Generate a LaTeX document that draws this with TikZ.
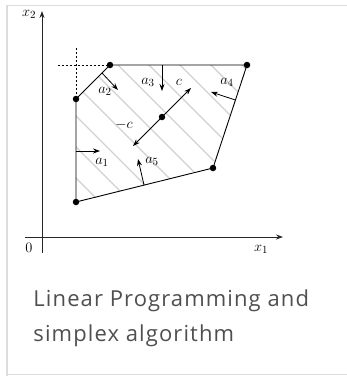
\documentclass[tikz,border=0pt]{standalone}
\usepackage{fontspec}
\newfontfamily\capfont[LetterSpace=5]{Open Sans}
\usetikzlibrary{arrows.meta}
\definecolor{capgray}{HTML}{4F4F4F}
\definecolor{framegray}{HTML}{DCDCDC}
\tikzset{
  dot/.style={circle,fill=black,inner sep=0pt,minimum size=6.5pt},
  edge/.style={line width=0.9pt,black},
  axis/.style={line width=0.9pt,black!85,-{Stealth[length=7pt,width=5pt]}},
  normal/.style={line width=0.8pt,-{Stealth[length=7pt,width=5pt]}},
  hatch/.style={line width=1.3pt,black!18},
  guide/.style={line width=0.7pt,dash pattern=on 2pt off 2pt},
  lbl/.style={inner sep=0pt,font=\fontsize{15}{17}\selectfont},
  caption/.style={inner sep=0pt,anchor=base west,text=capgray,font=\capfont\fontsize{22}{26}\selectfont}
}
\begin{document}
\begin{tikzpicture}[x=1pt,y=-1pt]
\useasboundingbox (0,0) rectangle (347,376);
\draw[framegray,line width=1.5pt] (6.75,380) -- (6.75,5.5) -- (350,5.5);
\draw[framegray,line width=1.5pt] (6.75,374.5) -- (350,374.5);
% axes
\coordinate (xs) at (25,237);
\coordinate (xe) at (283,237);
\coordinate (ys) at (42,253);
\coordinate (ye) at (42,11);
\draw[axis] (xs) -- (xe);
\draw[axis] (ys) -- (ye);
\node[lbl] (lx1) at (261,249) {$x_1$};
\node[lbl] (lx2) at (29,14) {$x_2$};
\node[lbl] (l0) at (29,248) {$0$};
% polygon
\coordinate (A) at (76,202);
\coordinate (B) at (76,99);
\coordinate (C) at (110,65);
\coordinate (D) at (247,65);
\coordinate (E) at (213,168);
\coordinate (O) at (162,117);
\begin{scope}
\clip (A) -- (B) -- (C) -- (D) -- (E) -- cycle;
\foreach \c in {-177,-146,-115,-84,-53,-22,9,40,71,102,133}
  \draw[hatch] (40,40+\c) -- (280,280+\c);
\end{scope}
\coordinate (g1) at (58,65);
\coordinate (g2) at (76,48);
\draw[guide] (g1) -- (C);
\draw[guide] (g2) -- (B);
\draw[edge] (A) -- (B) -- (C) -- (D) -- (E) -- cycle;
% normals
\coordinate (n1s) at (76,151);  \coordinate (n1e) at (100,151);
\coordinate (n2s) at (102,73);  \coordinate (n2e) at (118,90);
\coordinate (n3s) at (162,65);  \coordinate (n3e) at (162,91);
\coordinate (n4s) at (235.4,100); \coordinate (n4e) at (211,92);
\coordinate (n5s) at (144,185); \coordinate (n5e) at (138,159);
\coordinate (cp) at (191,88);
\coordinate (cm) at (133,146);
\draw[normal] (n1s) -- (n1e);
\draw[normal] (n2s) -- (n2e);
\draw[normal] (n3s) -- (n3e);
\draw[normal] (n4s) -- (n4e);
\draw[normal] (n5s) -- (n5e);
\draw[normal] (O) -- (cp);
\draw[normal] (O) -- (cm);
\foreach \p in {A,B,C,D,E,O} \node[dot] (d\p) at (\p) {};
% labels
\node[lbl] (la1) at (102,162) {$a_1$};
\node[lbl] (la2) at (105,91) {$a_2$};
\node[lbl] (la3) at (148,82) {$a_3$};
\node[lbl] (lc) at (179,82) {$c$};
\node[lbl] (la4) at (227,82) {$a_4$};
\node[lbl] (lmc) at (124,125) {$-c$};
\node[lbl] (la5) at (152,161) {$a_5$};
% caption
\node[caption] (cap1) at (33.3,306.7) {Linear Programming and};
\node[caption] (cap2) at (33.3,341.7) {simplex algorithm};
\end{tikzpicture}
\end{document}
